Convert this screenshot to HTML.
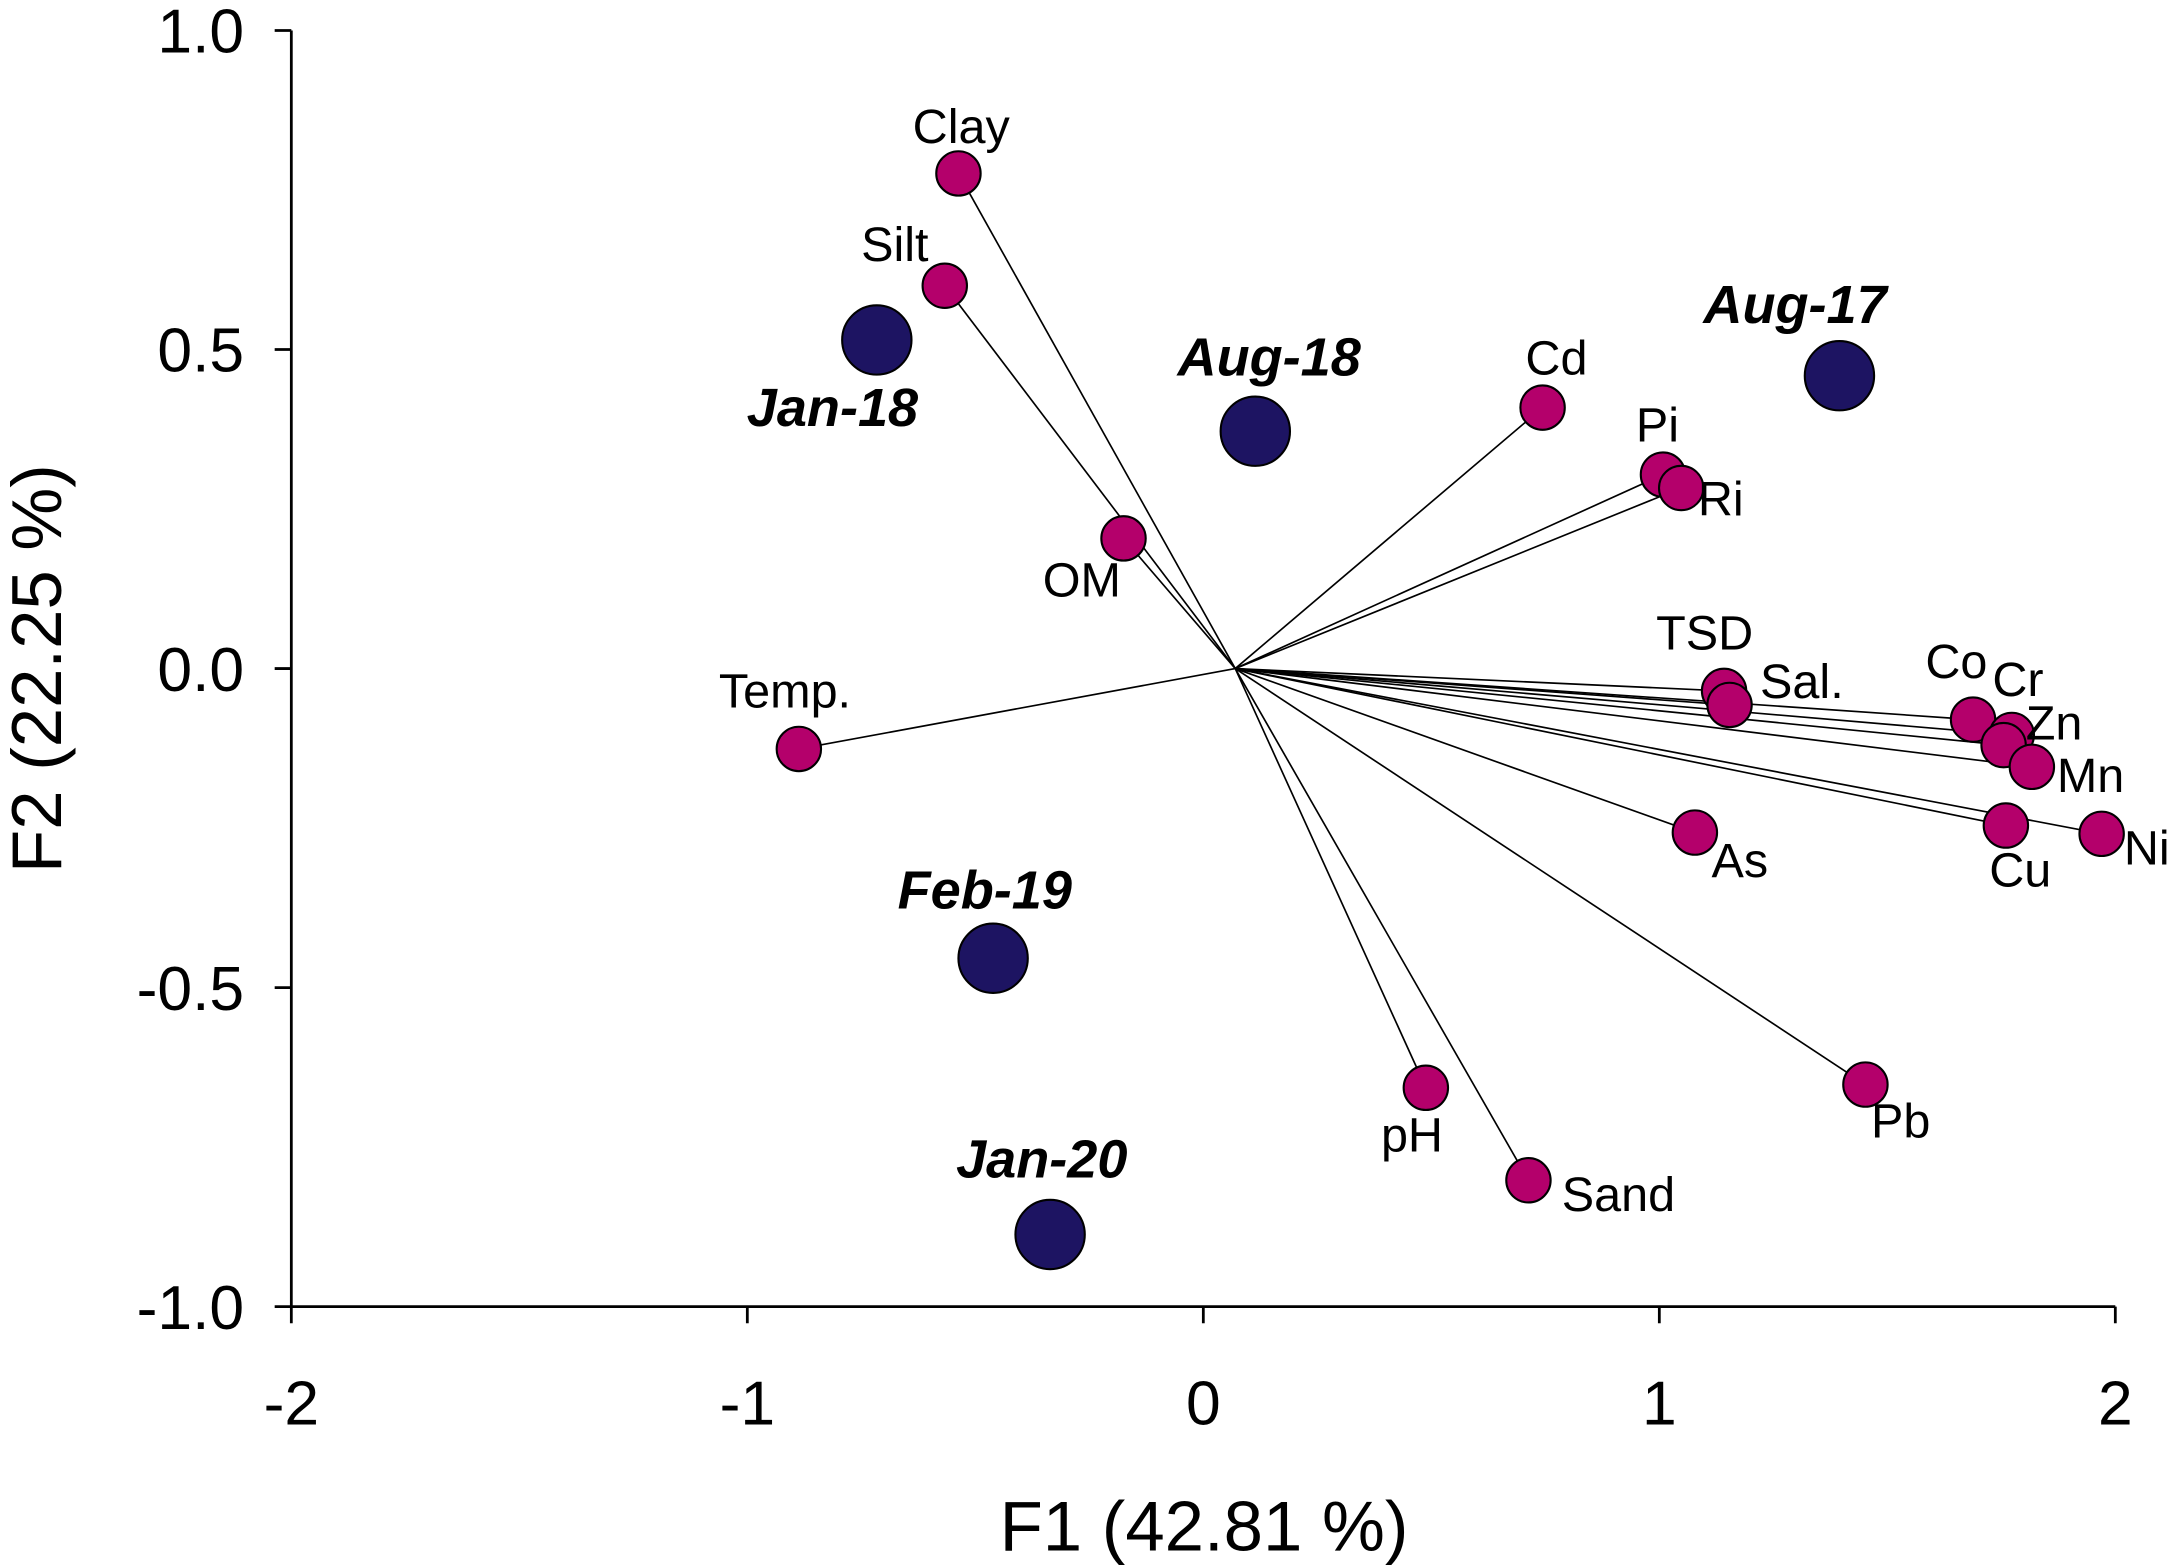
<!DOCTYPE html>
<html><head><meta charset="utf-8"><style>html,body{margin:0;padding:0;background:#fff}svg{display:block}text{font-family:"Liberation Sans",Arial,sans-serif}</style></head>
<body>
<svg id="chart" width="2175" height="1566" viewBox="0 0 1568 1129" xmlns="http://www.w3.org/2000/svg"></svg>
<script>
const varNames=["Clay","Silt","OM","Temp.","Cd","Pi","Ri","TSD","Sal.","Co","Cr","Zn","Mn","Ni","Cu","As","Pb","pH","Sand"];
const varF1=[-0.537,-0.567,-0.175,-0.887,0.744,1.008,1.048,1.142,1.154,1.688,1.773,1.755,1.817,1.97,1.76,1.078,1.452,0.488,0.713];
const varF2=[0.776,0.6,0.204,-0.126,0.409,0.304,0.283,-0.035,-0.057,-0.08,-0.104,-0.12,-0.154,-0.259,-0.246,-0.257,-0.652,-0.657,-0.802];
const sampleNames=["Jan-18","Aug-18","Aug-17","Feb-19","Jan-20"];
const sampleF1=[-0.716,0.114,1.395,-0.461,-0.336];
const sampleF2=[0.515,0.372,0.459,-0.454,-0.887];
const xTicks=[-2,-1,0,1,2];
const yTicks=[1.0,0.5,0.0,-0.5,-1.0];
const originF1=0.07, originF2=0;

const svg=document.getElementById('chart');
const NS="http://www.w3.org/2000/svg";
const X=v=>867.5+v*328.75;
const Y=v=>482-v*460;
function mk(tag,attrs,parent){const e=document.createElementNS(NS,tag);for(const k in attrs)e.setAttribute(k,attrs[k]);(parent||svg).appendChild(e);return e;}

let ax=mk('line',{x1:210,y1:22,x2:210,y2:942,stroke:'#000','stroke-width':2});


ax=mk('line',{x1:210,y1:942,x2:1525,y2:942,stroke:'#000','stroke-width':2});


xTicks.forEach(t=>{
  const l=mk('line',{x1:X(t),y1:942,x2:X(t),y2:954,stroke:'#000','stroke-width':2});
  
  
  const tx=mk('text',{x:X(t),y:1027,'font-size':45,'text-anchor':'middle'});
  tx.textContent=String(t);
  
  
});
yTicks.forEach(t=>{
  const l=mk('line',{x1:198,y1:Y(t),x2:210,y2:Y(t),stroke:'#000','stroke-width':2});
  
  
  const tx=mk('text',{x:176,y:Y(t)+16,'font-size':45,'text-anchor':'end'});
  tx.textContent=t.toFixed(1);
  
  
});
let tt=mk('text',{x:868,y:1118,'font-size':51,'text-anchor':'middle'});
tt.textContent='F1 (42.81 %)';


tt=mk('text',{x:0,y:0,'font-size':51,'text-anchor':'middle',transform:'translate(44,482) rotate(-90)'});
tt.textContent='F2 (22.25 %)';



const varLab={"Clay":[2,-22,'middle'],"Silt":[-36,-18,'middle'],"OM":[-30,42,'middle'],"Temp.":[-10,-30,'middle'],"Cd":[10,-24,'middle'],"Pi":[-4,-24,'middle'],"Ri":[12,20,'start'],"TSD":[-14,-30,'middle'],"Sal.":[22,-5,'start'],"Co":[-12,-30,'middle'],"Cr":[-14,-28,'start'],"Zn":[16,-4,'start'],"Mn":[18,18,'start'],"Ni":[16,22,'start'],"Cu":[-12,44,'start'],"As":[12,32,'start'],"Pb":[4,38,'start'],"pH":[-10,46,'middle'],"Sand":[24,22,'start']};
const sampLab={"Jan-18":[-32,62,'middle'],"Aug-18":[10,-40,'middle'],"Aug-17":[-32,-38,'middle'],"Feb-19":[-6,-36,'middle'],"Jan-20":[-6,-41,'middle']};

varNames.forEach((n,i)=>{
  const l=mk('line',{x1:X(originF1),y1:Y(originF2),x2:X(varF1[i]),y2:Y(varF2[i]),stroke:'#000','stroke-width':1.2});
  
  
});
varNames.forEach((n,i)=>{
  const c=mk('circle',{cx:X(varF1[i]),cy:Y(varF2[i]),r:16,fill:'#b4006b',stroke:'#000','stroke-width':1.5});
  
  
});
varNames.forEach((n,i)=>{
  const o=varLab[n];
  const t=mk('text',{x:X(varF1[i])+o[0],y:Y(varF2[i])+o[1],'font-size':35,'text-anchor':o[2]});
  t.textContent=n;
  
  
});
sampleNames.forEach((n,i)=>{
  const c=mk('circle',{cx:X(sampleF1[i]),cy:Y(sampleF2[i]),r:25,fill:'#1d1462',stroke:'#000','stroke-width':1.5});
  
  
  const o=sampLab[n];
  const t=mk('text',{x:X(sampleF1[i])+o[0],y:Y(sampleF2[i])+o[1],'font-size':39,'font-weight':'bold','font-style':'italic','text-anchor':o[2]});
  t.textContent=n;
  
  
});
</script>
</body></html>
